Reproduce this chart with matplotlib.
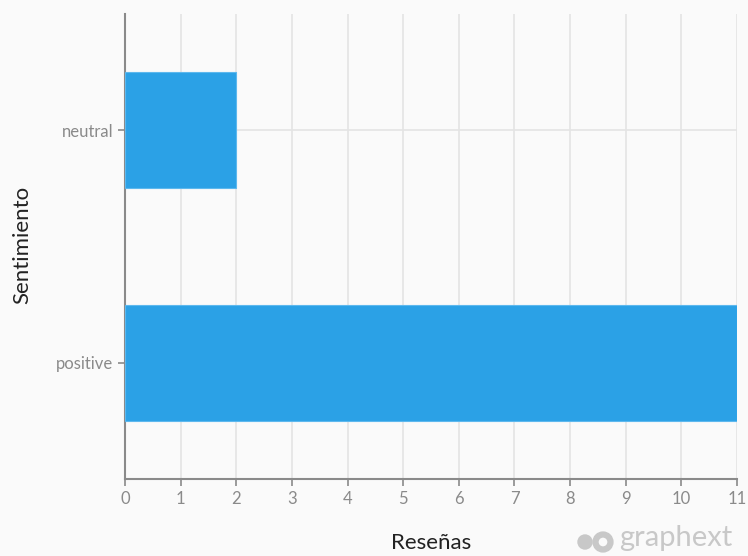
import matplotlib.pyplot as plt
from matplotlib.patches import Circle

# Data
categories = ['positive', 'neutral']
counts = [11, 2]
x_ticks = list(range(0, 12))

plt.rcParams['font.family'] = ['Lato', 'DejaVu Sans']

W, H = 748, 556
fig = plt.figure(figsize=(W / 100, H / 100), dpi=100, facecolor='#fafafa')
ax = fig.add_axes([125 / W, 1 - 479 / H, (737 - 125) / W, (479 - 14) / H])
ax.set_facecolor('#fafafa')

ypos = list(range(len(categories)))
ax.barh(ypos, counts, height=0.5, color='#2ba1e6', edgecolor='#5db8ee', linewidth=0.8, zorder=3)

ax.set_xlim(0, 11)
ax.set_ylim(-0.5, 1.5)
ax.set_xticks(x_ticks)
ax.set_yticks(ypos)
ax.set_yticklabels(categories)

ax.grid(axis='both', color='#e4e4e4', linewidth=1.2, zorder=0)

for side in ['top', 'right']:
    ax.spines[side].set_visible(False)
for side in ['left', 'bottom']:
    ax.spines[side].set_color('#8a8a8a')
    ax.spines[side].set_linewidth(1.5)

ax.tick_params(axis='both', colors='#8a8a8a', labelcolor='#8a8a8a', labelsize=12,
               length=5, width=1.2)

# axis titles
fig.text(431 / W, 1 - 543 / H, 'Reseñas', fontsize=16, color='#222222',
         ha='center', va='center')
fig.text(22 / W, 1 - 245 / H, 'Sentimiento', fontsize=16, color='#222222',
         ha='center', va='center', rotation=90)

# graphext watermark
fig.text(619 / W, 1 - 546 / H, 'graphext', fontsize=21, color='#c8c8c8',
         ha='left', va='baseline')
inch = fig.dpi_scale_trans
fig.patches.append(Circle((585 / 100, (H - 542) / 100), 0.07, transform=inch,
                          color='#c8c8c8'))
fig.patches.append(Circle((603 / 100, (H - 542) / 100), 0.075, transform=inch,
                          facecolor='#fafafa', edgecolor='#c8c8c8', linewidth=4.5))

fig.savefig('out.png', dpi=100, facecolor=fig.get_facecolor())
